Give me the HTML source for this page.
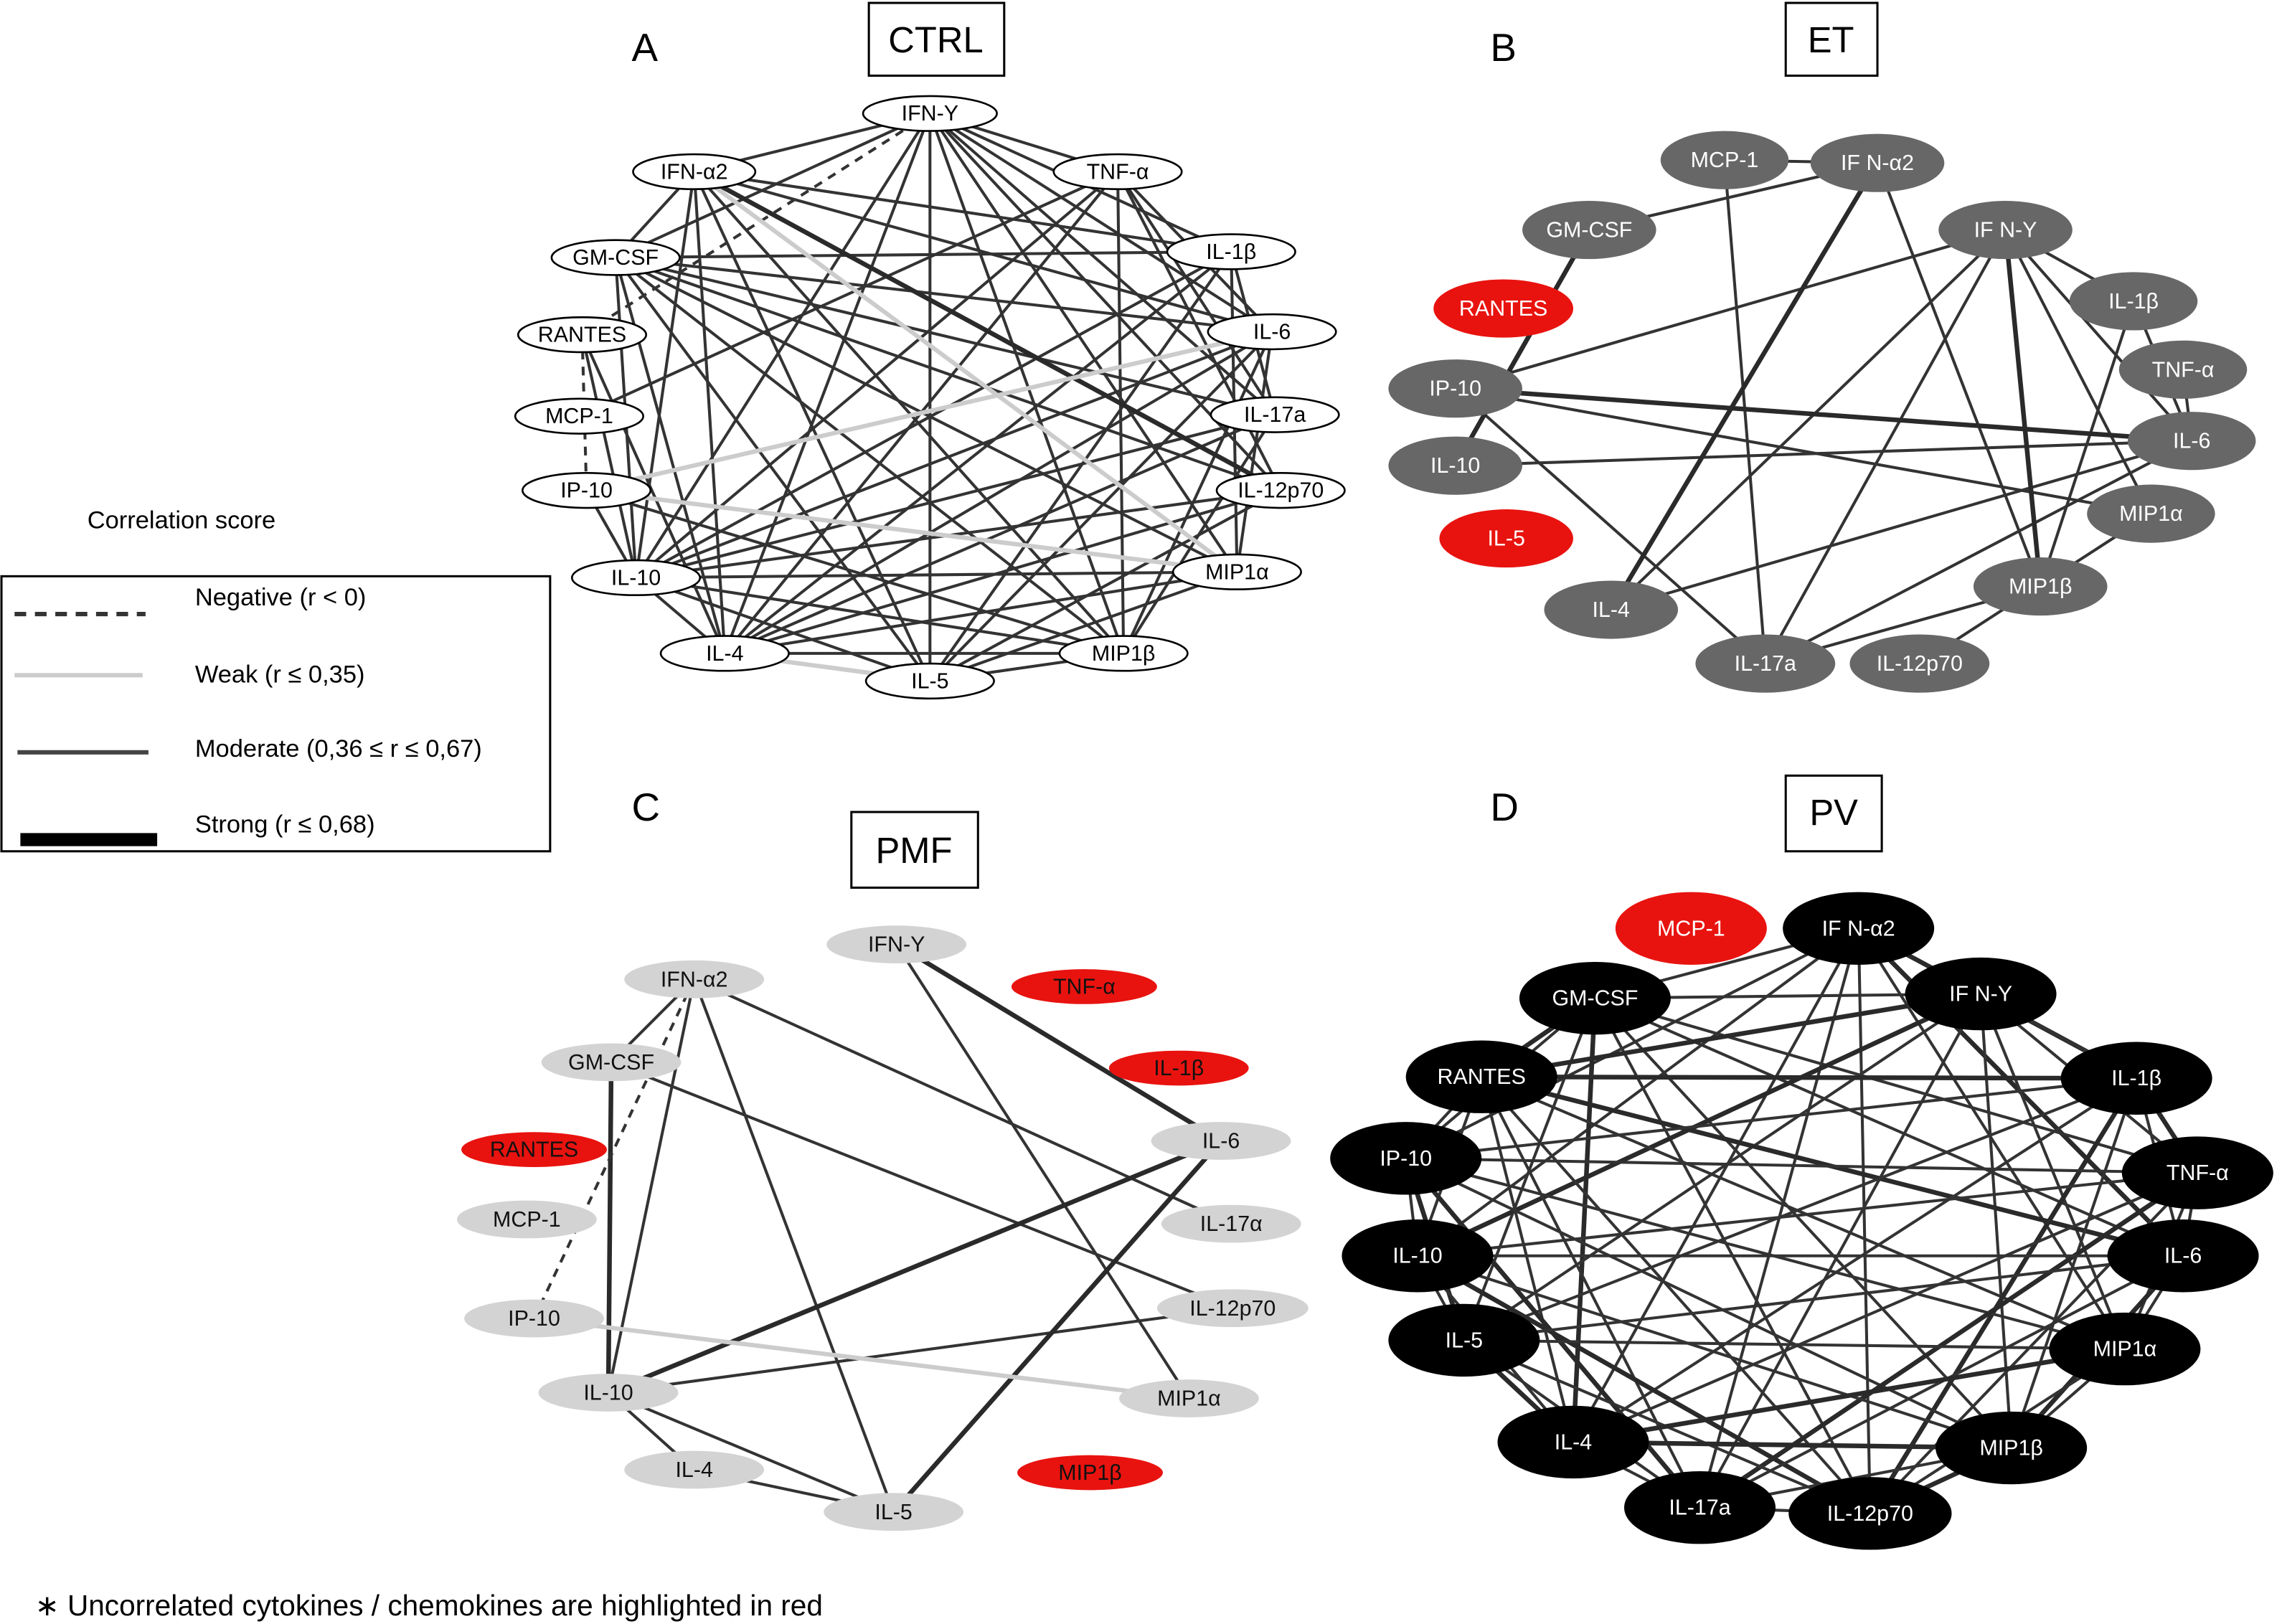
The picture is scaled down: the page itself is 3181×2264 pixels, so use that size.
<!DOCTYPE html>
<html><head><meta charset="utf-8"><style>
html,body{margin:0;padding:0;background:#fff}
svg{display:block}
text{font-family:"Liberation Sans",sans-serif}
</style></head><body>
<svg id="s" width="3181" height="2264" viewBox="0 0 1568 1116" preserveAspectRatio="none" xmlns="http://www.w3.org/2000/svg">
<rect width="1568" height="1116" fill="#fff"/>
<g id="edges"></g>
<g font-size="15" text-anchor="middle" dominant-baseline="central">
<g fill="#fff" stroke="#000" stroke-width="1.3">
<ellipse cx="639" cy="78" rx="46" ry="12"/><ellipse cx="477" cy="118" rx="42" ry="12"/><ellipse cx="768" cy="118" rx="44" ry="12"/>
<ellipse cx="423" cy="177" rx="44" ry="12"/><ellipse cx="846" cy="173" rx="44" ry="12"/><ellipse cx="400" cy="230" rx="44" ry="12"/>
<ellipse cx="874" cy="228" rx="44" ry="12"/><ellipse cx="398" cy="286" rx="44" ry="12"/><ellipse cx="876" cy="285" rx="44" ry="12"/>
<ellipse cx="403" cy="337" rx="44" ry="12"/><ellipse cx="880" cy="337" rx="44" ry="12"/><ellipse cx="437" cy="397" rx="44" ry="12"/>
<ellipse cx="850" cy="393" rx="44" ry="12"/><ellipse cx="498" cy="449" rx="44" ry="12"/><ellipse cx="772" cy="449" rx="44" ry="12"/>
<ellipse cx="639" cy="468" rx="44" ry="12"/>
</g>
<g fill="#000">
<text x="639" y="78">IFN-Y</text><text x="477" y="118">IFN-α2</text><text x="768" y="118">TNF-α</text>
<text x="423" y="177">GM-CSF</text><text x="846" y="173">IL-1β</text><text x="400" y="230">RANTES</text>
<text x="874" y="228">IL-6</text><text x="398" y="286">MCP-1</text><text x="876" y="285">IL-17a</text>
<text x="403" y="337">IP-10</text><text x="880" y="337">IL-12p70</text><text x="437" y="397">IL-10</text>
<text x="850" y="393">MIP1α</text><text x="498" y="449">IL-4</text><text x="772" y="449">MIP1β</text>
<text x="639" y="468">IL-5</text>
</g>
<g fill="#676767">
<ellipse cx="1185" cy="110" rx="44" ry="20"/><ellipse cx="1290" cy="112" rx="46" ry="20"/><ellipse cx="1092" cy="158" rx="46" ry="20"/>
<ellipse cx="1378" cy="158" rx="46" ry="20"/><ellipse cx="1466" cy="207" rx="44" ry="20"/><ellipse cx="1500" cy="254" rx="44" ry="20"/>
<ellipse cx="1000" cy="267" rx="46" ry="20"/><ellipse cx="1506" cy="303" rx="44" ry="20"/><ellipse cx="1000" cy="320" rx="46" ry="20"/>
<ellipse cx="1478" cy="353" rx="44" ry="20"/><ellipse cx="1402" cy="403" rx="46" ry="20"/><ellipse cx="1107" cy="419" rx="46" ry="20"/>
<ellipse cx="1213" cy="456" rx="48" ry="20"/><ellipse cx="1319" cy="456" rx="48" ry="20"/>
</g>
<ellipse cx="1033" cy="212" rx="48" ry="20" fill="#e8130f"/><ellipse cx="1035" cy="370" rx="46" ry="20" fill="#e8130f"/>
<g fill="#fff">
<text x="1185" y="110">MCP-1</text><text x="1290" y="112">IF N-α2</text><text x="1092" y="158">GM-CSF</text>
<text x="1378" y="158">IF N-Y</text><text x="1466" y="207">IL-1β</text><text x="1500" y="254">TNF-α</text>
<text x="1000" y="267">IP-10</text><text x="1506" y="303">IL-6</text><text x="1000" y="320">IL-10</text>
<text x="1478" y="353">MIP1α</text><text x="1402" y="403">MIP1β</text><text x="1107" y="419">IL-4</text>
<text x="1213" y="456">IL-17a</text><text x="1319" y="456">IL-12p70</text>
<text x="1033" y="212">RANTES</text><text x="1035" y="370">IL-5</text>
</g>
<g fill="#d3d3d3">
<ellipse cx="616" cy="649" rx="48" ry="13"/><ellipse cx="477" cy="673" rx="48" ry="13"/><ellipse cx="420" cy="730" rx="48" ry="13"/>
<ellipse cx="839" cy="784" rx="48" ry="13"/><ellipse cx="362" cy="838" rx="48" ry="13"/><ellipse cx="846" cy="841" rx="48" ry="13"/>
<ellipse cx="847" cy="899" rx="52" ry="13"/><ellipse cx="367" cy="906" rx="48" ry="13"/><ellipse cx="418" cy="957" rx="48" ry="13"/>
<ellipse cx="817" cy="961" rx="48" ry="13"/><ellipse cx="477" cy="1010" rx="48" ry="13"/><ellipse cx="614" cy="1039" rx="48" ry="13"/>
</g>
<g fill="#e8130f">
<ellipse cx="745" cy="678" rx="50" ry="12"/><ellipse cx="810" cy="734" rx="48" ry="12"/><ellipse cx="367" cy="790" rx="50" ry="12"/><ellipse cx="749" cy="1012" rx="50" ry="12"/>
</g>
<g fill="#111">
<text x="616" y="649">IFN-Y</text><text x="477" y="673">IFN-α2</text><text x="420" y="730">GM-CSF</text>
<text x="839" y="784">IL-6</text><text x="362" y="838">MCP-1</text><text x="846" y="841">IL-17α</text>
<text x="847" y="899">IL-12p70</text><text x="367" y="906">IP-10</text><text x="418" y="957">IL-10</text>
<text x="817" y="961">MIP1α</text><text x="477" y="1010">IL-4</text><text x="614" y="1039">IL-5</text>
<text x="745" y="678">TNF-α</text><text x="810" y="734">IL-1β</text><text x="367" y="790">RANTES</text><text x="749" y="1012">MIP1β</text>
</g>
<g fill="#000">
<ellipse cx="1277" cy="638" rx="52" ry="25"/><ellipse cx="1096" cy="686" rx="52" ry="25"/><ellipse cx="1361" cy="683" rx="52" ry="25"/>
<ellipse cx="1018" cy="740" rx="52" ry="25"/><ellipse cx="1468" cy="741" rx="52" ry="25"/><ellipse cx="966" cy="796" rx="52" ry="25"/>
<ellipse cx="1510" cy="806" rx="52" ry="25"/><ellipse cx="974" cy="863" rx="52" ry="25"/><ellipse cx="1500" cy="863" rx="52" ry="25"/>
<ellipse cx="1006" cy="921" rx="52" ry="25"/><ellipse cx="1460" cy="927" rx="52" ry="25"/><ellipse cx="1081" cy="991" rx="52" ry="25"/>
<ellipse cx="1382" cy="995" rx="52" ry="25"/><ellipse cx="1168" cy="1036" rx="52" ry="25"/><ellipse cx="1285" cy="1040" rx="56" ry="25"/>
</g>
<ellipse cx="1162" cy="638" rx="52" ry="25" fill="#e8130f"/>
<g fill="#fff">
<text x="1277" y="638">IF N-α2</text><text x="1096" y="686">GM-CSF</text><text x="1361" y="683">IF N-Y</text>
<text x="1018" y="740">RANTES</text><text x="1468" y="741">IL-1β</text><text x="966" y="796">IP-10</text>
<text x="1510" y="806">TNF-α</text><text x="974" y="863">IL-10</text><text x="1500" y="863">IL-6</text>
<text x="1006" y="921">IL-5</text><text x="1460" y="927">MIP1α</text><text x="1081" y="991">IL-4</text>
<text x="1382" y="995">MIP1β</text><text x="1168" y="1036">IL-17a</text><text x="1285" y="1040">IL-12p70</text>
<text x="1162" y="638">MCP-1</text>
</g>
</g>
<g font-size="27" fill="#000">
<text x="434" y="42">A</text><text x="1024" y="42">B</text><text x="434" y="564">C</text><text x="1024" y="564">D</text>
</g>
<g fill="none" stroke="#000" stroke-width="1.5">
<rect x="597" y="2" width="93" height="50"/><rect x="1227" y="2" width="63" height="50"/>
<rect x="585" y="558" width="87" height="52"/><rect x="1227" y="533" width="66" height="52"/>
<rect x="1" y="396" width="377" height="189"/>
</g>
<g font-size="25" text-anchor="middle">
<text x="643" y="36">CTRL</text><text x="1258" y="36">ET</text><text x="628" y="593">PMF</text><text x="1260" y="567">PV</text>
</g>
<g font-size="17" fill="#000">
<text x="60" y="363">Correlation score</text>
<text x="134" y="416">Negative (r &lt; 0)</text>
<text x="134" y="469">Weak (r ≤ 0,35)</text>
<text x="134" y="520">Moderate (0,36 ≤ r ≤ 0,67)</text>
<text x="134" y="572">Strong (r ≤ 0,68)</text>
<text x="24" y="1110" font-size="20">∗ Uncorrelated cytokines / chemokines are highlighted in red</text>
</g>
<line x1="10" y1="422" x2="100" y2="422" stroke="#333" stroke-width="3" stroke-dasharray="8,6"/>
<line x1="10" y1="464" x2="98" y2="464" stroke="#ccc" stroke-width="3"/>
<line x1="12" y1="517" x2="102" y2="517" stroke="#444" stroke-width="3"/>
<line x1="14" y1="577" x2="108" y2="577" stroke="#000" stroke-width="9"/>
</svg>
<script>
var E=document.getElementById('edges');
function L(p,a,b,st){var x=p[a],y=p[b];if(!x||!y)return;var l=document.createElementNS('http://www.w3.org/2000/svg','line');
l.setAttribute('x1',x[0]);l.setAttribute('y1',x[1]);l.setAttribute('x2',y[0]);l.setAttribute('y2',y[1]);
l.setAttribute('stroke',st.c);l.setAttribute('stroke-width',st.w);if(st.d)l.setAttribute('stroke-dasharray',st.d);E.appendChild(l);}
var M={c:'#333',w:2},S={c:'#2a2a2a',w:3.2},W={c:'#ccc',w:3},N={c:'#333',w:2,d:'6,5'};
var A={y:[639,78],a2:[477,118],t:[768,118],g:[423,177],b:[846,173],r:[400,230],i6:[874,228],m:[398,286],a17:[876,285],ip:[403,337],p70:[880,337],i10:[437,397],ma:[850,393],i4:[498,449],mb:[772,449],i5:[639,468]};
[['y','a2'],['y','g'],['y','i10'],['y','i4'],['y','i5'],['y','mb'],['y','ma'],['y','p70'],['y','a17'],['y','i6'],['y','b'],['y','t'],
['a2','g'],['a2','i10'],['a2','i4'],['a2','i5'],['a2','b'],['a2','i6'],['a2','mb'],
['g','b'],['g','i6'],['g','a17'],['g','p70'],['g','ma'],['g','mb'],['g','i5'],['g','i4'],['g','i10'],
['t','i4'],['t','i10'],['t','i6'],['t','a17'],['t','mb'],['t','p70'],
['b','i10'],['b','i4'],['b','i5'],['b','ma'],['b','a17'],
['i6','i10'],['i6','i4'],['i6','i5'],['i6','mb'],['i6','ma'],
['a17','i10'],['a17','i4'],['a17','mb'],['p70','i10'],['p70','i4'],['p70','i5'],
['ma','i4'],['ma','i5'],['ma','i10'],['mb','i5'],['mb','i4'],['i10','i4'],['i10','i5'],['i10','mb'],['ip','i10'],['ip','mb'],['m','t'],['r','i10'],['r','i4']
].forEach(function(e){L(A,e[0],e[1],M)});
L(A,'a2','p70',S);L(A,'y','r',N);L(A,'r','ip',N);L(A,'ip','i10',N);
L(A,'a2','ma',W);L(A,'ip','i6',W);L(A,'ip','ma',W);L(A,'i4','i5',W);
var B={m:[1185,110],a2:[1290,112],g:[1092,158],y:[1378,158],b:[1466,207],t:[1500,254],ip:[1000,267],i6:[1506,303],i10:[1000,320],ma:[1478,353],mb:[1402,403],i4:[1107,419],a17:[1213,456],p70:[1319,456]};
[['m','a2'],['m','a17'],['a2','mb'],['g','a2'],['y','ip'],['y','b'],['y','i6'],['y','ma'],['y','i4'],['y','a17'],['b','i6'],['b','mb'],['t','i6'],['ip','ma'],['ip','a17'],['i10','i6'],['i6','a17'],['ma','p70'],['i4','i6'],['a17','mb'],['ip','i6']].forEach(function(e){L(B,e[0],e[1],M)});
L(B,'g','i10',S);L(B,'a2','i4',S);L(B,'ip','i6',S);L(B,'y','mb',S);
var C={y:[616,649],a2:[477,673],g:[420,730],i6:[839,784],m:[362,838],a17:[846,841],p70:[847,899],ip:[367,906],i10:[418,957],ma:[817,961],i4:[477,1010],i5:[614,1039]};
[['a2','i10'],['a2','i5'],['a2','a17'],['g','p70'],['y','ma'],['y','i6'],['i10','p70'],['i10','i5'],['i4','i5'],['i10','i4'],['a2','g']].forEach(function(e){L(C,e[0],e[1],M)});
L(C,'g','i10',S);L(C,'i10','i6',S);L(C,'i5','i6',S);L(C,'y','i6',S);L(C,'a2','ip',N);L(C,'ip','ma',W);
var D={a2:[1277,638],g:[1096,686],y:[1361,683],r:[1018,740],b:[1468,741],ip:[966,796],t:[1510,806],i10:[974,863],i6:[1500,863],i5:[1006,921],ma:[1460,927],i4:[1081,991],mb:[1382,995],a17:[1168,1036],p70:[1285,1040]};
var k=Object.keys(D);
var n=0;for(var i=0;i<k.length;i++)for(var j=i+1;j<k.length;j++){n++;if((i*7+j*5)%3!=0)L(D,k[i],k[j],(n%4==0)?S:M);}
</script>
</body></html>
